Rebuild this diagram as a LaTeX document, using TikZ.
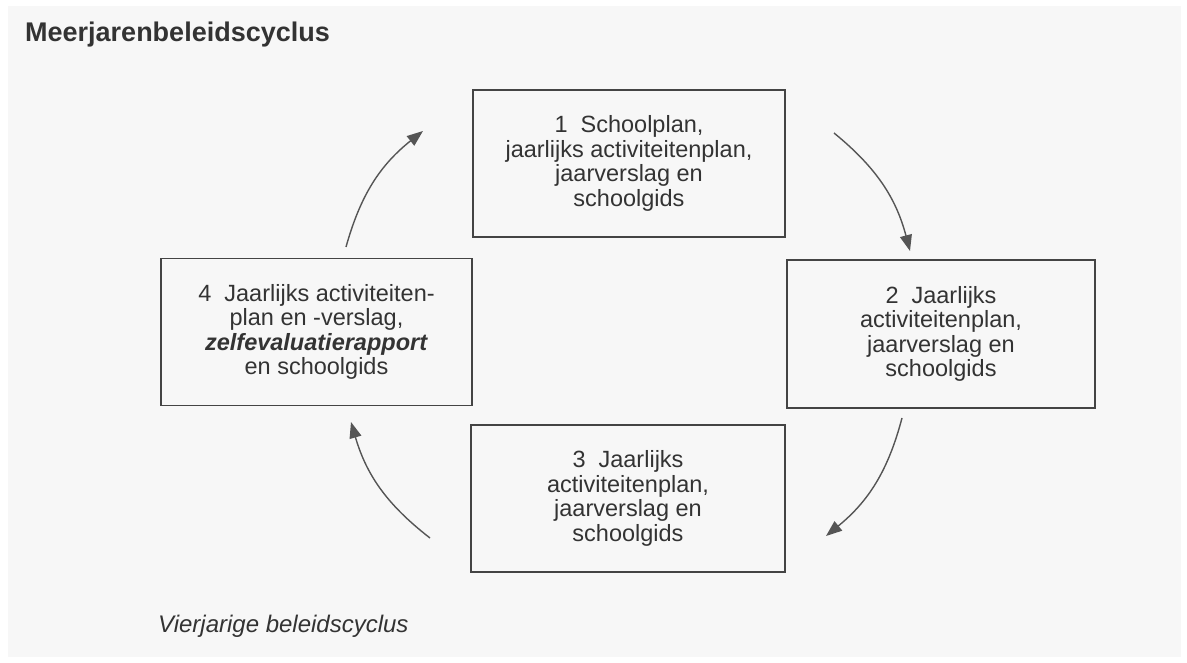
\documentclass[tikz,border=0pt]{standalone}
\usepackage{fontspec}
\setmainfont{Liberation Sans}
\usetikzlibrary{arrows.meta}
\definecolor{panel}{HTML}{F7F7F7}
\definecolor{ink}{HTML}{333333}
\definecolor{edge}{HTML}{444444}
\definecolor{arrowc}{HTML}{555555}
\tikzset{
  stagebox/.style={draw=edge, line width=1.4pt, fill=panel, align=center, text=ink,
    inner sep=0pt, font=\fontsize{23.5}{24.5}\selectfont},
  cyclearrow/.style={draw=arrowc, line width=1.4pt, bend left=18,
    -{Triangle[length=16pt,width=12pt]}},
}
\begin{document}
\begin{tikzpicture}[x=1pt,y=-1pt]
\useasboundingbox (0,0) rectangle (1187,663);
\fill[white] (0,0) rectangle (1187,663);
\fill[panel] (8,6) rectangle (1181,657);

\node[anchor=base west, inner sep=0pt, text=ink, font=\fontsize{27}{30}\selectfont\bfseries] (title) at (25,42) {Meerjarenbeleidscyclus};

\node[stagebox, minimum width=312pt, minimum height=147pt] (s1) at (629,163.5)
  {1\ \ Schoolplan,\\jaarlijks activiteitenplan,\\jaarverslag en\\schoolgids};
\node[stagebox, minimum width=308pt, minimum height=148pt] (s2) at (941,334)
  {2\ \ Jaarlijks\\activiteitenplan,\\jaarverslag en\\schoolgids};
\node[stagebox, minimum width=314pt, minimum height=147pt] (s3) at (628,498.5)
  {3\ \ Jaarlijks\\activiteitenplan,\\jaarverslag en\\schoolgids};
\node[stagebox, minimum width=311pt, minimum height=147pt] (s4) at (316.5,332)
  {4\ \ Jaarlijks activiteiten-\\plan en -verslag,\\\textbf{\itshape zelfevaluatierapport}\\en schoolgids};

\coordinate (a1s) at (346,247);
\coordinate (a1e) at (423,131);
\coordinate (a2s) at (834,133);
\coordinate (a2e) at (910,251);
\coordinate (a3s) at (902,418);
\coordinate (a3e) at (826,536);
\coordinate (a4s) at (430,538);
\coordinate (a4e) at (351,422);

\draw[cyclearrow] (a1s) to (a1e);
\draw[cyclearrow] (a2s) to (a2e);
\draw[cyclearrow] (a3s) to (a3e);
\draw[cyclearrow] (a4s) to (a4e);

\node[anchor=base west, inner sep=0pt, text=ink, font=\fontsize{24}{28}\selectfont\itshape] (caption) at (158,632) {Vierjarige beleidscyclus};
\end{tikzpicture}
\end{document}
